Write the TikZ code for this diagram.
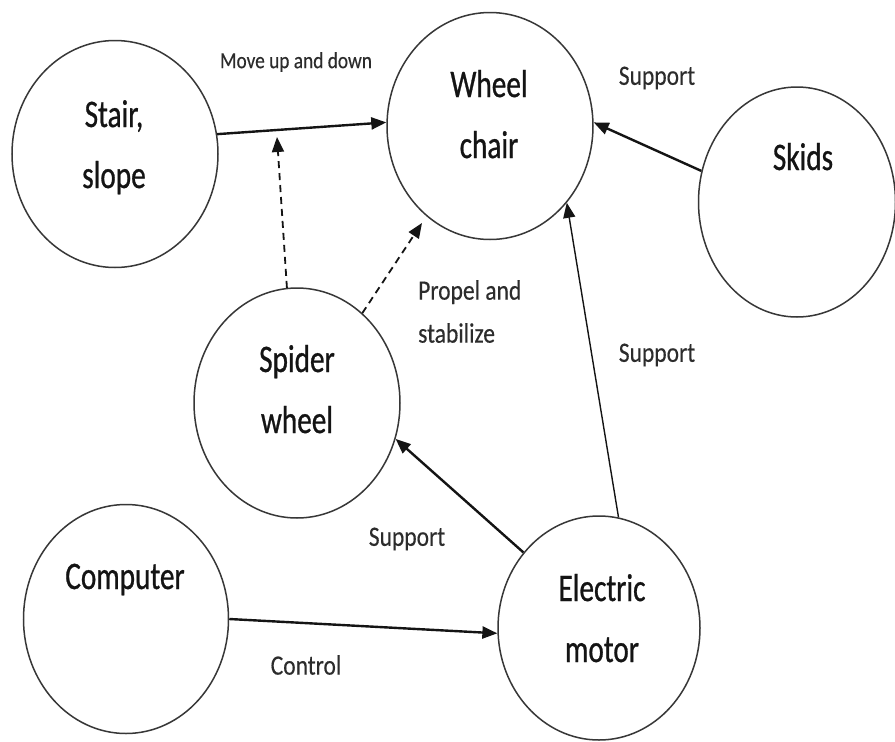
\documentclass[tikz,border=0pt]{standalone}
\usepackage{fontspec}
\setmainfont{Carlito}
\newfontfamily\bubblefont[FakeStretch=0.75,FakeBold=0.7]{Carlito}
\newfontfamily\notefont[FakeStretch=0.84,FakeBold=0.3]{Carlito}
\usetikzlibrary{arrows.meta,shapes.geometric}
\definecolor{ink}{RGB}{20,20,20}
\definecolor{rim}{RGB}{55,55,55}
\tikzset{
  bubble/.style={draw=rim, line width=1.5pt, ellipse, inner sep=0pt,
    minimum width=206pt, minimum height=227pt},
  title/.style={font=\bubblefont\fontsize{39}{61}\selectfont, text=ink,
    align=center, anchor=base, inner sep=0pt},
  note/.style={font=\notefont\fontsize{28}{43}\selectfont, text=ink!90,
    align=left, inner sep=0pt},
  link/.style={draw=ink, line width=2.4pt,
    -{Triangle[length=15pt,width=12pt]}},
  thinlink/.style={draw=ink, line width=1.4pt,
    -{Triangle[length=15pt,width=12pt]}},
  dashlink/.style={draw=ink, line width=1.8pt, dash pattern=on 7pt off 5pt,
    -{Triangle[length=15pt,width=12pt]}}
}
\begin{document}
\begin{tikzpicture}[x=1pt,y=-1pt]
\useasboundingbox[fill=white] (0,0) rectangle (895,742);

% the six ellipses
\node[bubble] (stair)    at (115,154) {};
\node[bubble] (wheel)    at (490,126) {};
\node[bubble, minimum width=197pt, minimum height=230pt] (skids) at (797,202) {};
\node[bubble, minimum height=230pt] (spider) at (297,403) {};
\node[bubble, minimum width=205pt, minimum height=229pt] (computer) at (126,619) {};
\node[bubble, minimum width=202pt, minimum height=224pt] (motor) at (599,628) {};

% their captions (base = baseline of the last line)
\node[title] (stairT)    at (114,188) {Stair,\\slope};
\node[title] (wheelT)    at (489,158) {Wheel\\chair};
\node[title] (skidsT)    at (803,170) {Skids};
\node[title] (spiderT)   at (297,433) {Spider\\wheel};
\node[title] (computerT) at (125,589) {Computer};
\node[title] (motorT)    at (602,662) {Electric\\motor};

% connector labels
\node[note, font=\notefont\fontsize{23}{43}\selectfont] (moveL) at (296,62) {Move up and down};
\node[note] (supTopL)  at (657,78)  {Support};
\node[note, anchor=north west] (propelL) at (418,280) {Propel and\\stabilize};
\node[note] (supMidL)  at (657,355) {Support};
\node[note] (supLowL)  at (407,539) {Support};
\node[note] (controlL) at (306,665) {Control};

% free ends of the dashed arrows
\coordinate (onMove)  at (277,137);
\coordinate (toWheel) at (422,223);

% connectors
\draw[link]     (stair.11)    -- (wheel.178);
\draw[link]     (skids.162)   -- (wheel.2);
\draw[thinlink] (motor.80)    -- (wheel.-45);
\draw[link]     (motor.135)   -- (spider.-20);
\draw[link]     (computer.0)  -- (motor.183);
\draw[dashlink] (spider.95)   -- (onMove);
\draw[dashlink] (spider.54)   -- (toWheel);
\end{tikzpicture}
\end{document}
